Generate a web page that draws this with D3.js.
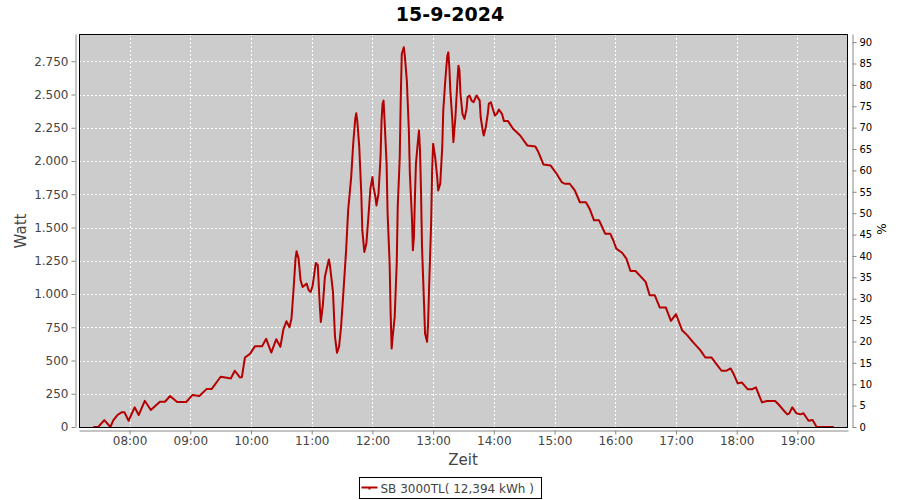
<!DOCTYPE html>
<html>
<head>
<meta charset="utf-8">
<script src="https://cdn.jsdelivr.net/npm/d3@7"></script>
<style>
  body { margin: 0; background: #fff; }
  svg { display: block; font-family: "DejaVu Sans", sans-serif; }
  .grid line { stroke: #fff; stroke-dasharray: 2,2; shape-rendering: crispEdges; }
</style>
</head>
<body>
<svg id="chart" width="900" height="500"></svg>
<script>
// readings of the day (time of day, Watt)
const times = [
  "07:24","07:29","07:35","07:41","07:44","07:48","07:52","07:55","07:59","08:05",
  "08:09","08:15","08:21","08:30","08:35","08:40","08:47","08:56","09:02","09:09",
  "09:16","09:21","09:30","09:36","09:40","09:44","09:49","09:51","09:54","09:59",
  "10:04","10:11","10:15","10:20","10:25","10:29","10:32","10:35","10:38","10:40",
  "10:42","10:44","10:45","10:47","10:49","10:51","10:55","10:57","10:59","11:01",
  "11:04","11:06","11:08","11:09","11:11","11:13","11:16","11:17","11:18","11:21",
  "11:23","11:25","11:27","11:29","11:31","11:34","11:36","11:39","11:41","11:43",
  "11:44","11:45","11:47","11:49","11:50","11:52","11:54","11:56","11:58","12:00",
  "12:01","12:03","12:04","12:06","12:08","12:09","12:10","12:11","12:12","12:14",
  "12:15","12:17","12:18","12:19","12:20","12:22","12:24","12:25","12:27","12:28",
  "12:29","12:31","12:32","12:34","12:36","12:37","12:39","12:40","12:41","12:42",
  "12:43","12:45","12:46","12:47","12:48","12:49","12:51","12:52","12:54","12:55",
  "12:56","12:58","12:59","13:00","13:02","13:04","13:05","13:07","13:09","13:10",
  "13:12","13:14","13:15","13:16","13:17","13:19","13:20","13:22","13:24","13:25",
  "13:26","13:27","13:29","13:31","13:33","13:34","13:36","13:38","13:40","13:42",
  "13:43","13:46","13:47","13:49","13:50","13:52","13:54","13:55","13:57","13:59",
  "14:01","14:03","14:05","14:08","14:10","14:14","14:19","14:26","14:33","14:41",
  "14:44","14:49","14:56","15:02","15:07","15:10","15:15","15:20","15:25","15:31",
  "15:35","15:39","15:44","15:47","15:50","15:55","15:58","16:01","16:07","16:11",
  "16:15","16:20","16:25","16:30","16:34","16:39","16:44","16:50","16:55","17:00",
  "17:06","17:11","17:17","17:24","17:29","17:35","17:40","17:45","17:50","17:54",
  "17:57","18:01","18:05","18:11","18:15","18:19","18:22","18:25","18:30","18:38",
  "18:41","18:46","18:50","18:52","18:55","18:59","19:03","19:06","19:11","19:15",
  "19:19","19:36"
];
const watts = [
  0,0,52,0,52,90,110,110,47,148,
  90,197,128,190,190,233,188,188,240,233,
  285,285,378,370,365,423,373,375,523,550,
  608,608,663,560,660,603,733,795,750,816,
  1028,1266,1321,1266,1103,1053,1078,1028,1016,1066,
  1233,1216,908,790,916,1128,1229,1259,1216,1016,
  678,558,603,753,978,1329,1629,1879,2130,2317,
  2359,2304,2104,1754,1479,1316,1379,1579,1792,1879,
  1804,1729,1666,1754,2029,2304,2430,2454,2304,1979,
  1604,1229,853,591,678,828,1229,1654,2029,2479,
  2805,2855,2792,2605,2229,1904,1579,1329,1429,1729,
  1979,2154,2229,2079,1779,1353,929,703,640,778,
  1053,1529,1929,2130,2029,1879,1779,1829,2104,2379,
  2605,2792,2817,2705,2529,2304,2142,2329,2605,2717,
  2680,2505,2355,2317,2392,2479,2492,2454,2442,2479,
  2492,2454,2329,2229,2192,2254,2355,2430,2442,2392,
  2342,2355,2387,2355,2300,2300,2242,2192,2117,2109,
  2067,1974,1967,1904,1842,1829,1829,1779,1690,1690,
  1635,1554,1554,1504,1454,1454,1404,1341,1308,1266,
  1173,1173,1133,1091,991,991,898,898,798,848,
  728,691,636,578,523,523,473,423,423,440,
  398,328,335,283,283,298,240,185,195,195,
  173,128,95,103,148,103,95,103,47,52,
  0,0
];
const hourTicks = ["08:00","09:00","10:00","11:00","12:00","13:00","14:00",
                   "15:00","16:00","17:00","18:00","19:00"];
const wattTicks = [0,250,500,750,1000,1250,1500,1750,2000,2250,2500,2750];
const pctTicks = [0,5,10,15,20,25,30,35,40,45,50,55,60,65,70,75,80,85,90];

const title = "15-9-2024";
const seriesName = "SB 3000TL( 12,394 kWh )";

const svg = d3.select("#chart");
const plot = {left: 79, right: 848, top: 34, bottom: 427};
const parseTime = d3.timeParse("%H:%M");
const lineColor = "#b40000";

const data = times.map((t, i) => ({t: parseTime(t), w: watts[i]}));

const x = d3.scaleTime()
  .domain([parseTime("07:10"), parseTime("19:50")])
  .range([plot.left, plot.right]);
const y = d3.scaleLinear().domain([0, 2955]).range([plot.bottom, plot.top]);
const yPct = d3.scaleLinear().domain([0, 91.9]).range([plot.bottom, plot.top]);

const deLocale = d3.formatLocale({decimal: ",", thousands: ".", grouping: [3], currency: ["", " €"]});
const fmtWatt = deLocale.format(",.0f");

// title
svg.append("text")
  .attr("x", 450).attr("y", 21)
  .attr("text-anchor", "middle")
  .style("font-size", "19px").style("font-weight", "bold")
  .attr("fill", "#000")
  .text(title);

// plot background
svg.append("rect")
  .attr("x", plot.left).attr("y", plot.top)
  .attr("width", plot.right - plot.left).attr("height", plot.bottom - plot.top)
  .attr("fill", "#cccccc");

// grid
const grid = svg.append("g").attr("class", "grid");
grid.selectAll(".h").data(wattTicks.slice(1)).enter().append("line")
  .attr("x1", plot.left).attr("x2", plot.right)
  .attr("y1", d => Math.round(y(d)) + 0.5).attr("y2", d => Math.round(y(d)) + 0.5);
grid.selectAll(".v").data(hourTicks.map(parseTime)).enter().append("line")
  .attr("y1", plot.top).attr("y2", plot.bottom)
  .attr("x1", d => Math.round(x(d)) + 0.5).attr("x2", d => Math.round(x(d)) + 0.5);

// series
svg.append("clipPath").attr("id", "clip")
  .append("rect")
  .attr("x", plot.left).attr("y", plot.top)
  .attr("width", plot.right - plot.left).attr("height", plot.bottom - plot.top);

const line = d3.line().x(d => x(d.t)).y(d => y(d.w));
svg.append("path")
  .datum(data)
  .attr("clip-path", "url(#clip)")
  .attr("d", line)
  .attr("fill", "none")
  .attr("stroke", lineColor)
  .attr("stroke-width", 2)
  .attr("stroke-linejoin", "round");

// plot border
svg.append("rect")
  .attr("x", plot.left + 0.5).attr("y", plot.top + 0.5)
  .attr("width", plot.right - plot.left - 1).attr("height", plot.bottom - plot.top)
  .attr("fill", "none").attr("stroke", "#000").attr("stroke-width", 1);

// axes
const styleAxis = (g, size, color) => {
  g.select(".domain").attr("stroke", "#888");
  g.selectAll(".tick line").attr("stroke", "#888");
  g.selectAll(".tick text").attr("fill", color)
    .style("font-size", size).style("font-family", "DejaVu Sans, sans-serif");
};

const yAxisLeft = d3.axisLeft(y).tickValues(wattTicks).tickFormat(fmtWatt)
  .tickSizeInner(4).tickSizeOuter(0).tickPadding(3);
svg.append("g")
  .attr("transform", "translate(75.5,0)")
  .call(yAxisLeft)
  .call(g => styleAxis(g, "12px", "#444"));

const yAxisRight = d3.axisRight(yPct).tickValues(pctTicks)
  .tickSizeInner(4).tickSizeOuter(0).tickPadding(3);
svg.append("g")
  .attr("transform", "translate(852.5,0)")
  .call(yAxisRight)
  .call(g => styleAxis(g, "10px", "#000"));

const xAxis = d3.axisBottom(x).tickValues(hourTicks.map(parseTime))
  .tickFormat(d3.timeFormat("%H:%M"))
  .tickSizeInner(4).tickSizeOuter(0).tickPadding(2);
svg.append("g")
  .attr("transform", "translate(0,430.5)")
  .call(xAxis)
  .call(g => styleAxis(g, "12px", "#444"));

// axis titles
svg.append("text")
  .attr("transform", "translate(26,231) rotate(-90)")
  .attr("text-anchor", "middle")
  .style("font-size", "15px")
  .attr("fill", "#444")
  .text("Watt");
svg.append("text")
  .attr("x", 463).attr("y", 465)
  .attr("text-anchor", "middle")
  .style("font-size", "15px")
  .attr("fill", "#444")
  .text("Zeit");
svg.append("text")
  .attr("transform", "translate(886,229) rotate(-90)")
  .attr("text-anchor", "middle")
  .style("font-size", "12px")
  .attr("fill", "#000")
  .text("%");

// legend
const legend = svg.append("g").attr("transform", "translate(359.5,477.5)");
legend.append("rect")
  .attr("width", 182).attr("height", 21)
  .attr("fill", "#fff").attr("stroke", "#000");
legend.append("line")
  .attr("x1", 2).attr("x2", 18).attr("y1", 10).attr("y2", 10)
  .attr("stroke", lineColor).attr("stroke-width", 2);
legend.append("rect")
  .attr("x", 9).attr("y", 10).attr("width", 2).attr("height", 2)
  .attr("fill", lineColor);
legend.append("text")
  .attr("x", 21).attr("y", 15)
  .style("font-size", "12px")
  .attr("fill", "#444")
  .text(seriesName);
</script>
</body>
</html>
